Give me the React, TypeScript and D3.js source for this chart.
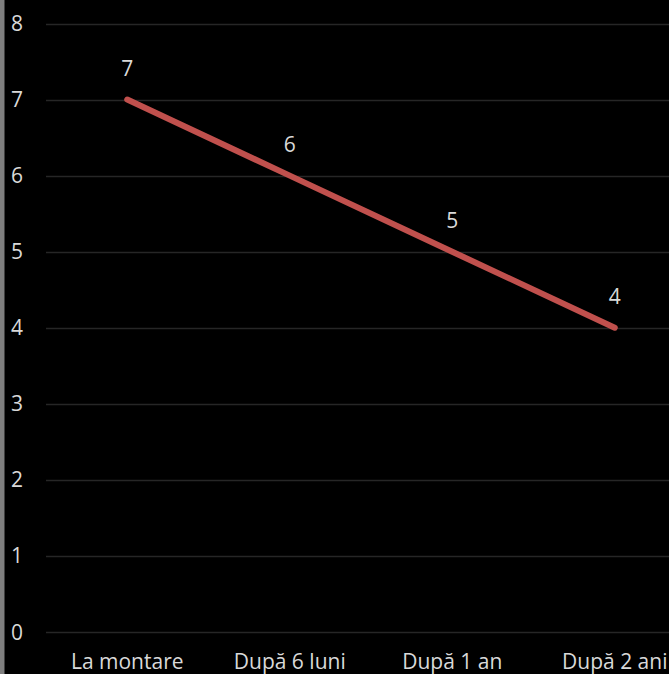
import * as d3 from "d3";
import { useEffect, useRef } from "react";

const categories = ["La montare", "După 6 luni", "După 1 an", "După 2 ani"];
const values = [7, 6, 5, 4];
const yTicks = [0, 1, 2, 3, 4, 5, 6, 7, 8];

export default function App() {
  const ref = useRef<SVGSVGElement | null>(null);
  const width = 669;
  const height = 674;

  useEffect(() => {
    if (!ref.current) return;
    const svg = d3.select(ref.current);
    svg.selectAll("*").remove();

    const font = "'Open Sans', 'Noto Sans', sans-serif";
    const textColor = "#d9d9d9";

    svg.append("rect").attr("width", width).attr("height", height).attr("fill", "#000");
    svg.append("rect").attr("width", 4.5).attr("height", height).attr("fill", "#7f7f7f");

    // band extends past the right edge (chart is cropped)
    const x = d3.scaleBand<string>().domain(categories).range([46, 696]);
    const y = d3.scaleLinear().domain([0, 8]).range([632, 23.5]);
    const cx = (c: string) => (x(c) ?? 0) + x.bandwidth() / 2;

    svg
      .append("g")
      .selectAll("line")
      .data(yTicks)
      .join("line")
      .attr("x1", 46)
      .attr("x2", width)
      .attr("y1", (d) => Math.round(y(d)) + 0.5)
      .attr("y2", (d) => Math.round(y(d)) + 0.5)
      .attr("stroke", "#262626")
      .attr("stroke-width", 1.5);

    svg
      .append("g")
      .selectAll("text")
      .data(yTicks)
      .join("text")
      .attr("x", 17)
      .attr("y", (d) => y(d))
      .attr("dy", "0.36em")
      .attr("text-anchor", "middle")
      .attr("fill", textColor)
      .style("font-family", font)
      .style("font-size", "21px")
      .text((d) => d);

    svg
      .append("g")
      .selectAll("text")
      .data(categories)
      .join("text")
      .attr("x", cx)
      .attr("y", 669)
      .attr("text-anchor", "middle")
      .attr("fill", textColor)
      .style("font-family", font)
      .style("font-size", "21px")
      .text((d) => d);

    const pts = categories.map((c, i) => ({ c, v: values[i] }));
    const line = d3
      .line<(typeof pts)[0]>()
      .x((d) => cx(d.c))
      .y((d) => y(d.v));

    svg
      .append("path")
      .datum(pts)
      .attr("fill", "none")
      .attr("stroke", "#c0504d")
      .attr("stroke-width", 6)
      .attr("stroke-linecap", "round")
      .attr("stroke-linejoin", "round")
      .attr("d", line);

    svg
      .append("g")
      .selectAll("text")
      .data(pts)
      .join("text")
      .attr("x", (d) => cx(d.c))
      .attr("y", (d) => y(d.v) - 24)
      .attr("text-anchor", "middle")
      .attr("fill", textColor)
      .style("font-family", font)
      .style("font-size", "21px")
      .text((d) => d.v);
  }, []);

  return (
    <svg
      ref={ref}
      width={width}
      height={height}
      style={{ position: "fixed", left: 0, top: 0, display: "block" }}
    />
  );
}
